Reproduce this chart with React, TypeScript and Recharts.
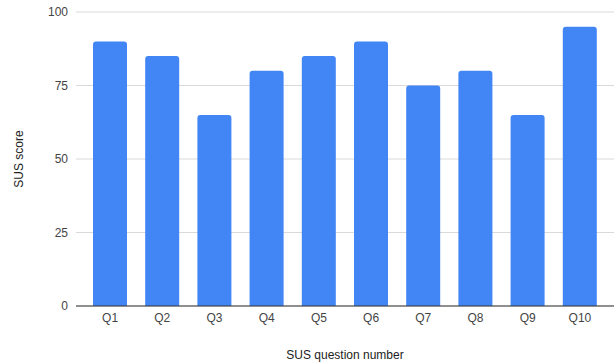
import { BarChart, Bar, XAxis, YAxis, CartesianGrid } from "recharts";

const questions = ["Q1", "Q2", "Q3", "Q4", "Q5", "Q6", "Q7", "Q8", "Q9", "Q10"];
const scores = [90, 85, 65, 80, 85, 90, 75, 80, 65, 95];
const yTicks = [0, 25, 50, 75, 100];

const data = questions.map((q, i) => ({ q, score: scores[i] }));

const font = "'Liberation Sans', Arial, sans-serif";

const App = () => {
  return (
    <div style={{ position: "absolute", left: 0, top: 0, fontFamily: font }}>
      <BarChart
        width={615}
        height={364}
        data={data}
        margin={{ top: 12, right: 1, left: 0, bottom: 0 }}
      >
        <CartesianGrid vertical={false} stroke="#d9d9d9" />
        <XAxis
          dataKey="q"
          height={58}
          padding={{ left: 8, right: 8 }}
          axisLine={{ stroke: "#333333" }}
          tickLine={false}
          tick={{ fontSize: 12, fill: "#444444", fontFamily: font }}
          tickMargin={1}
          label={{
            value: "SUS question number",
            position: "insideBottom",
            offset: 5,
            fontSize: 12,
            fill: "#222222",
            fontFamily: font,
          }}
        />
        <YAxis
          width={76}
          domain={[0, 100]}
          ticks={yTicks}
          axisLine={false}
          tickLine={false}
          tick={{ fontSize: 12, fill: "#444444", fontFamily: font }}
          label={{
            value: "SUS score",
            angle: -90,
            position: "insideLeft",
            offset: 19,
            style: { textAnchor: "middle" },
            fontSize: 12,
            fill: "#222222",
            fontFamily: font,
          }}
        />
        <Bar
          dataKey="score"
          fill="#4285f4"
          barSize={34}
          radius={[3, 3, 0, 0]}
          isAnimationActive={false}
        />
      </BarChart>
    </div>
  );
};

export default App;
